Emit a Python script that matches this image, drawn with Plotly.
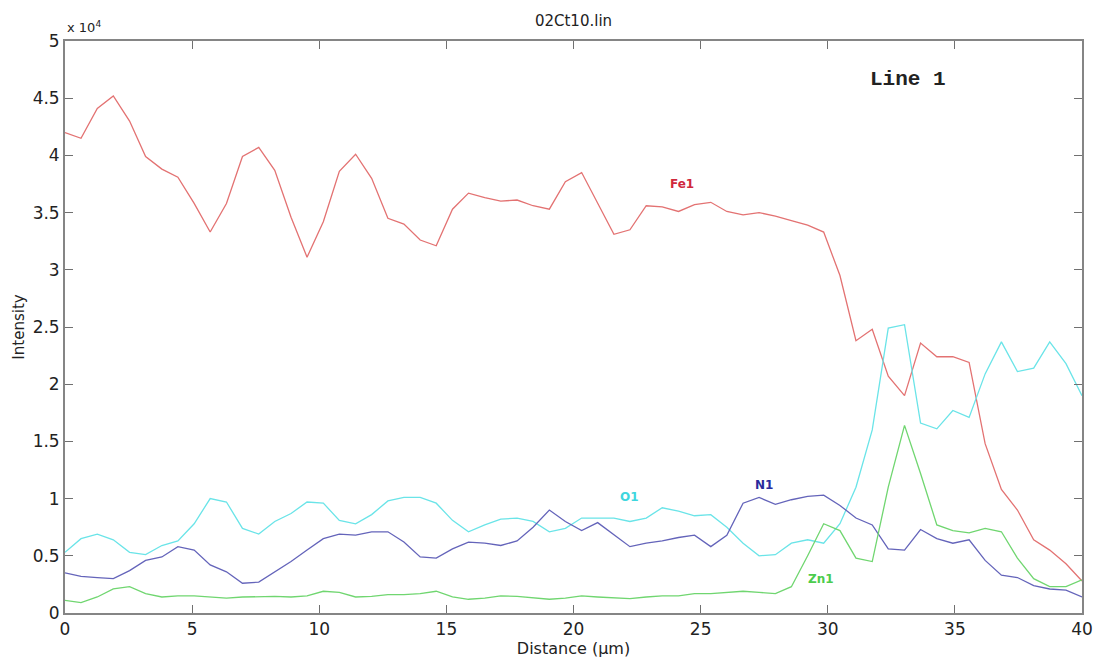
import plotly.graph_objects as go

# Distance along the line scan (µm)
distance = [0.00, 0.63, 1.27, 1.90, 2.54, 3.17, 3.81, 4.44, 5.08, 5.71,
            6.35, 6.98, 7.62, 8.25, 8.89, 9.52, 10.16, 10.79, 11.43, 12.06,
            12.70, 13.33, 13.97, 14.60, 15.24, 15.87, 16.51, 17.14, 17.78, 18.41,
            19.05, 19.68, 20.32, 20.95, 21.59, 22.22, 22.86, 23.49, 24.13, 24.76,
            25.40, 26.03, 26.67, 27.30, 27.94, 28.57, 29.21, 29.84, 30.48, 31.11,
            31.75, 32.38, 33.02, 33.65, 34.29, 34.92, 35.56, 36.19, 36.83, 37.46,
            38.10, 38.73, 39.37, 40.00]

fe1 = [42000, 41500, 44100, 45200, 43000, 39900, 38800, 38100, 35800, 33300,
       35800, 39900, 40700, 38700, 34600, 31100, 34200, 38600, 40100, 38000,
       34500, 34000, 32600, 32100, 35300, 36700, 36300, 36000, 36100, 35600,
       35300, 37700, 38500, 35800, 33100, 33500, 35600, 35500, 35100, 35700,
       35900, 35100, 34800, 35000, 34700, 34300, 33900, 33300, 29500, 23800,
       24800, 20700, 19000, 23600, 22400, 22400, 21900, 14800, 10800, 9000,
       6400, 5500, 4300, 2800]

o1 = [5300, 6500, 6900, 6400, 5300, 5100, 5900, 6300, 7800, 10000,
      9700, 7400, 6900, 8000, 8700, 9700, 9600, 8100, 7800, 8600,
      9800, 10100, 10100, 9600, 8100, 7100, 7700, 8200, 8300, 8000,
      7100, 7400, 8300, 8300, 8300, 8000, 8300, 9200, 8900, 8500,
      8600, 7500, 6100, 5000, 5100, 6100, 6400, 6100, 7800, 11000,
      16000, 24900, 25200, 16600, 16100, 17700, 17100, 20900, 23700, 21100,
      21400, 23700, 21800, 19000]

n1 = [3500, 3200, 3100, 3000, 3700, 4600, 4900, 5800, 5500, 4200,
      3600, 2600, 2700, 3600, 4500, 5500, 6500, 6900, 6800, 7100,
      7100, 6200, 4900, 4800, 5600, 6200, 6100, 5900, 6300, 7500,
      9000, 8000, 7200, 7900, 6800, 5800, 6100, 6300, 6600, 6800,
      5800, 6800, 9600, 10100, 9500, 9900, 10200, 10300, 9400, 8300,
      7700, 5600, 5500, 7300, 6500, 6100, 6400, 4600, 3300, 3100,
      2400, 2100, 2000, 1400]

zn1 = [1100, 900, 1400, 2100, 2300, 1700, 1400, 1500, 1500, 1400,
       1300, 1400, 1450, 1450, 1400, 1500, 1900, 1800, 1400, 1450,
       1600, 1600, 1700, 1900, 1400, 1200, 1300, 1500, 1450, 1300,
       1200, 1300, 1500, 1400, 1300, 1250, 1400, 1500, 1500, 1700,
       1700, 1800, 1900, 1800, 1700, 2300, 5000, 7800, 7200, 4800,
       4500, 11000, 16400, 12200, 7700, 7200, 7000, 7400, 7100, 4800,
       3000, 2300, 2300, 2900]

x_ticks = [0, 5, 10, 15, 20, 25, 30, 35, 40]
y_tickvals = [0, 5000, 10000, 15000, 20000, 25000, 30000, 35000, 40000, 45000, 50000]
y_ticktext = ["0", "0.5", "1", "1.5", "2", "2.5", "3", "3.5", "4", "4.5", "5"]

series = [
    ("Fe1", fe1, "#e37272"),
    ("O1", o1, "#6ae4e8"),
    ("N1", n1, "#6464ba"),
    ("Zn1", zn1, "#70d670"),
]

fig = go.Figure()
for name, vals, col in series:
    fig.add_trace(go.Scatter(x=distance, y=vals, mode="lines", name=name,
                             line=dict(color=col, width=1.3), showlegend=False))

font_main = "DejaVu Sans, Liberation Sans, Arial, sans-serif"
labels = [
    ("Fe1", 24.27, 37500, "#d0283c"),
    ("O1", 22.2, 10100, "#3ed6de"),
    ("N1", 27.48, 11200, "#2a2a9c"),
    ("Zn1", 29.73, 3000, "#4ccc4c"),
]
for txt, xx, yy, col in labels:
    fig.add_annotation(x=xx, y=yy, text="<b>" + txt + "</b>", showarrow=False,
                       font=dict(family=font_main, size=12, color=col))

fig.add_annotation(x=33.16, y=46600, text="<b>Line 1</b>", showarrow=False,
                   font=dict(family="Liberation Mono, Courier New, monospace", size=21, color="#222222"))

fig.add_annotation(xref="paper", yref="paper", x=0.0, y=1.0, xanchor="left", yanchor="bottom",
                   yshift=4, text="x 10<sup>4</sup>", showarrow=False,
                   font=dict(family=font_main, size=13, color="#222222"))

axis_common = dict(showline=True, linecolor="#858585", linewidth=1.8, mirror="ticks",
                   ticks="inside", ticklen=8, tickcolor="#707070", tickwidth=1,
                   showgrid=False, zeroline=False, automargin=False,
                   tickfont=dict(family=font_main, size=17, color="#222222"))

fig.update_layout(
    width=1095, height=662,
    margin=dict(l=65, r=13, t=41, b=49),
    paper_bgcolor="white", plot_bgcolor="white",
    title=dict(text="02Ct10.lin", x=0.5, xref="paper", xanchor="center",
               y=0.969, yref="container", yanchor="middle",
               font=dict(family=font_main, size=15, color="#222222")),
    xaxis=dict(range=[0, 40], tickvals=x_ticks,
               title=dict(text="Distance (µm)", standoff=4,
                          font=dict(family=font_main, size=16, color="#222222")),
               **axis_common),
    yaxis=dict(range=[0, 50000], tickvals=y_tickvals, ticktext=y_ticktext,
               title=dict(text="Intensity", standoff=4,
                          font=dict(family=font_main, size=15, color="#222222")),
               **axis_common),
)

fig.write_html("out.html")
